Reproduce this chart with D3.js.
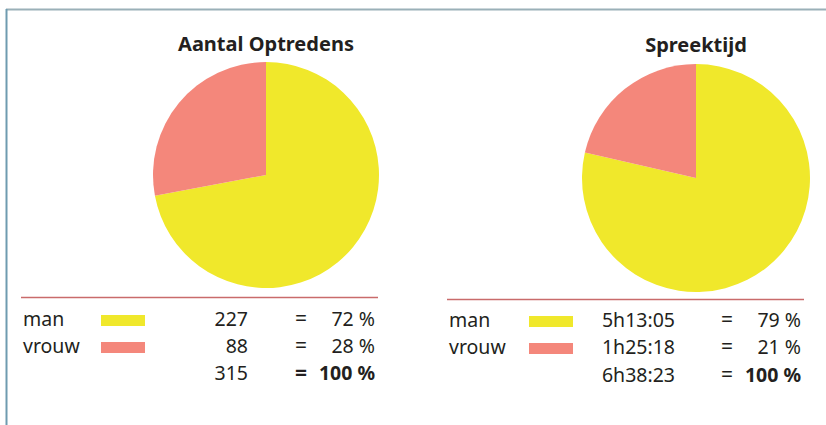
<!DOCTYPE html>
<html lang="nl">
<head>
<meta charset="utf-8">
<title>Aantal optredens en spreektijd</title>
<script src="https://cdn.jsdelivr.net/npm/d3@7"></script>
<style>
  body { margin: 0; background: #fff; }
  text { font-family: "Noto Sans", sans-serif; fill: #231f20; }
</style>
</head>
<body>
<script>
// data
var categories = ["man", "vrouw"];
var colors = ["#f0e82b", "#f4877b"];

var optredens = [227, 88];
var optredensLabels = ["227", "88"];
var optredensPct = ["72 %", "28 %"];
var optredensTotal = "315";

var spreektijdSec = [18785, 5118];          // 5h13:05, 1h25:18
var spreektijdLabels = ["5h13:05", "1h25:18"];
var spreektijdPct = ["79 %", "21 %"];
var spreektijdTotal = "6h38:23";

var totalPct = "100 %";

var w = 826, h = 425;
var fs = "19.5px";

var svg = d3.select("body").append("svg")
  .attr("width", w)
  .attr("height", h);

// frame
svg.append("line")
  .attr("x1", 6).attr("x2", w).attr("y1", 9.5).attr("y2", 9.5)
  .attr("stroke", "#9ab0b8").attr("stroke-width", 2);
svg.append("line")
  .attr("x1", 6.5).attr("x2", 6.5).attr("y1", 9).attr("y2", h)
  .attr("stroke", "#6f9bb0").attr("stroke-width", 2);

var color = d3.scaleOrdinal().domain(categories).range(colors);

var pie = d3.pie().sort(null);

var panels = [
  { title: "Aantal Optredens", cx: 266, cy: 175, r: 113, titleY: 51,
    values: optredens, labels: optredensLabels, pct: optredensPct, total: optredensTotal,
    lineX1: 21, lineX2: 378, lineY: 297.5,
    nameX: 23, swX: 101, numX: 248, eqX: 301, pctX: 375, rowY: [326, 353, 380], eqBold: true },
  { title: "Spreektijd", cx: 696, cy: 178, r: 114, titleY: 52,
    values: spreektijdSec, labels: spreektijdLabels, pct: spreektijdPct, total: spreektijdTotal,
    lineX1: 447, lineX2: 804, lineY: 299.5,
    nameX: 449, swX: 529, numX: 675, eqX: 727, pctX: 801, rowY: [327, 354, 382], eqBold: false }
];

panels.forEach(function(p) {
  var g = svg.append("g");

  g.append("text")
    .attr("x", p.cx)
    .attr("y", p.titleY)
    .attr("text-anchor", "middle")
    .attr("font-size", "20px")
    .attr("font-weight", "bold")
    .text(p.title);

  var arc = d3.arc().innerRadius(0).outerRadius(p.r);

  g.append("g")
    .attr("transform", "translate(" + p.cx + "," + p.cy + ")")
    .selectAll("path")
    .data(pie(p.values))
    .enter()
    .append("path")
    .attr("d", arc)
    .attr("fill", function(d, i) { return color(categories[i]); });

  g.append("line")
    .attr("x1", p.lineX1).attr("x2", p.lineX2)
    .attr("y1", p.lineY).attr("y2", p.lineY)
    .attr("stroke", "#c96b6b").attr("stroke-width", 1.5);

  var rows = g.selectAll("g.row")
    .data(categories)
    .enter()
    .append("g")
    .attr("class", "row");

  rows.append("text")
    .attr("x", p.nameX)
    .attr("y", function(d, i) { return p.rowY[i]; })
    .attr("font-size", fs)
    .text(function(d) { return d; });

  rows.append("rect")
    .attr("x", p.swX)
    .attr("y", function(d, i) { return p.rowY[i] - 11; })
    .attr("width", 44)
    .attr("height", 11)
    .attr("fill", function(d) { return color(d); });

  rows.append("text")
    .attr("x", p.numX)
    .attr("y", function(d, i) { return p.rowY[i]; })
    .attr("text-anchor", "end")
    .attr("font-size", fs)
    .text(function(d, i) { return p.labels[i]; });

  rows.append("text")
    .attr("x", p.eqX)
    .attr("y", function(d, i) { return p.rowY[i]; })
    .attr("text-anchor", "middle")
    .attr("font-size", "21px")
    .text("=");

  rows.append("text")
    .attr("x", p.pctX)
    .attr("y", function(d, i) { return p.rowY[i]; })
    .attr("text-anchor", "end")
    .attr("font-size", fs)
    .text(function(d, i) { return p.pct[i]; });

  // totals row
  g.append("text")
    .attr("x", p.numX)
    .attr("y", p.rowY[2])
    .attr("text-anchor", "end")
    .attr("font-size", fs)
    .text(p.total);

  g.append("text")
    .attr("x", p.eqX)
    .attr("y", p.rowY[2])
    .attr("text-anchor", "middle")
    .attr("font-size", "21px")
    .attr("font-weight", p.eqBold ? "bold" : "normal")
    .text("=");

  g.append("text")
    .attr("x", p.pctX)
    .attr("y", p.rowY[2])
    .attr("text-anchor", "end")
    .attr("font-size", fs)
    .attr("font-weight", "bold")
    .text(totalPct);
});
</script>
</body>
</html>
